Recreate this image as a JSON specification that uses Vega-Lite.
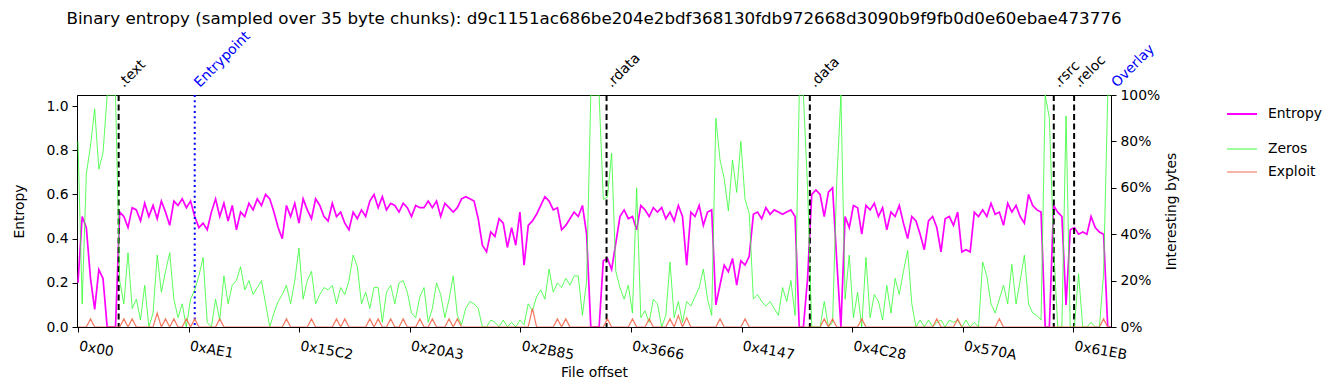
{
  "$schema": "https://vega.github.io/schema/vega-lite/v6.json",
  "width": 1034,
  "height": 232,
  "autosize": {"type": "none"},
  "padding": {"left": 77, "top": 95, "right": 224, "bottom": 63},
  "background": "white",
  "config": {
    "font": "DejaVu Sans",
    "view": {"stroke": "black", "strokeWidth": 1},
    "axis": {"labelFont": "DejaVu Sans", "labelFontSize": 13.9, "labelColor": "black", "titleFont": "DejaVu Sans", "titleFontSize": 13.9, "titleFontWeight": "normal", "titleColor": "black", "domainColor": "black", "tickColor": "black", "tickSize": 5, "grid": false},
    "legend": {"labelFont": "DejaVu Sans", "labelFontSize": 13.9, "labelColor": "black", "symbolType": "stroke", "symbolSize": 900, "labelOffset": 10, "padding": 0}
  },
  "title": {"text": "Binary entropy (sampled over 35 byte chunks): d9c1151ac686be204e2bdf368130fdb972668d3090b9f9fb0d0e60ebae473776", "font": "DejaVu Sans", "fontSize": 16.7, "fontWeight": "normal", "color": "black", "anchor": "middle", "frame": "group", "offset": 1},
  "datasets": {
    "sec": [
      {"o": 1024, "name": ".text", "kind": "s"},
      {"o": 2940, "name": "Entrypoint", "kind": "e"},
      {"o": 13312, "name": ".rdata", "kind": "s"},
      {"o": 18432, "name": ".data", "kind": "s"},
      {"o": 24576, "name": ".rsrc", "kind": "s"},
      {"o": 25088, "name": ".reloc", "kind": "s"},
      {"o": 26040, "name": "Overlay", "kind": "o"}
    ],
    "d": [
      {"o":0,"Entropy":0.2,"Zeros":0.8,"Exploit":0},
      {"o":105,"Entropy":0.5,"Zeros":0.1,"Exploit":0},
      {"o":210,"Entropy":0.45,"Zeros":0.66,"Exploit":0},
      {"o":315,"Entropy":0.22,"Zeros":0.78,"Exploit":0.035},
      {"o":420,"Entropy":0.08,"Zeros":0.94,"Exploit":0},
      {"o":525,"Entropy":0.26,"Zeros":0.68,"Exploit":0},
      {"o":630,"Entropy":0.22,"Zeros":0.75,"Exploit":0},
      {"o":735,"Entropy":0,"Zeros":1,"Exploit":0},
      {"o":840,"Entropy":0,"Zeros":1,"Exploit":0},
      {"o":945,"Entropy":0,"Zeros":1,"Exploit":0},
      {"o":1050,"Entropy":0.52,"Zeros":0.2,"Exploit":0},
      {"o":1155,"Entropy":0.5,"Zeros":0.1,"Exploit":0.035},
      {"o":1260,"Entropy":0.45,"Zeros":0.32,"Exploit":0},
      {"o":1365,"Entropy":0.54,"Zeros":0.08,"Exploit":0.035},
      {"o":1470,"Entropy":0.53,"Zeros":0.12,"Exploit":0},
      {"o":1575,"Entropy":0.48,"Zeros":0.03,"Exploit":0},
      {"o":1680,"Entropy":0.56,"Zeros":0.18,"Exploit":0},
      {"o":1785,"Entropy":0.5,"Zeros":0,"Exploit":0},
      {"o":1890,"Entropy":0.55,"Zeros":0.06,"Exploit":0},
      {"o":1995,"Entropy":0.49,"Zeros":0.31,"Exploit":0.06},
      {"o":2100,"Entropy":0.57,"Zeros":0.15,"Exploit":0},
      {"o":2205,"Entropy":0.52,"Zeros":0.24,"Exploit":0.035},
      {"o":2310,"Entropy":0.46,"Zeros":0.32,"Exploit":0},
      {"o":2415,"Entropy":0.57,"Zeros":0.12,"Exploit":0.035},
      {"o":2520,"Entropy":0.55,"Zeros":0.04,"Exploit":0},
      {"o":2625,"Entropy":0.58,"Zeros":0.1,"Exploit":0},
      {"o":2730,"Entropy":0.54,"Zeros":0,"Exploit":0.035},
      {"o":2835,"Entropy":0.57,"Zeros":0.12,"Exploit":0},
      {"o":2940,"Entropy":0.5,"Zeros":0.16,"Exploit":0.035},
      {"o":3045,"Entropy":0.45,"Zeros":0.22,"Exploit":0},
      {"o":3150,"Entropy":0.47,"Zeros":0.3,"Exploit":0},
      {"o":3255,"Entropy":0.44,"Zeros":0.02,"Exploit":0},
      {"o":3360,"Entropy":0.52,"Zeros":0,"Exploit":0},
      {"o":3465,"Entropy":0.58,"Zeros":0.12,"Exploit":0},
      {"o":3570,"Entropy":0.5,"Zeros":0.03,"Exploit":0.035},
      {"o":3675,"Entropy":0.56,"Zeros":0.22,"Exploit":0},
      {"o":3780,"Entropy":0.48,"Zeros":0.1,"Exploit":0},
      {"o":3885,"Entropy":0.55,"Zeros":0.18,"Exploit":0},
      {"o":3990,"Entropy":0.44,"Zeros":0.2,"Exploit":0},
      {"o":4095,"Entropy":0.52,"Zeros":0.26,"Exploit":0},
      {"o":4200,"Entropy":0.5,"Zeros":0.16,"Exploit":0},
      {"o":4305,"Entropy":0.56,"Zeros":0.2,"Exploit":0},
      {"o":4410,"Entropy":0.53,"Zeros":0.14,"Exploit":0},
      {"o":4515,"Entropy":0.58,"Zeros":0.17,"Exploit":0},
      {"o":4620,"Entropy":0.55,"Zeros":0.2,"Exploit":0},
      {"o":4725,"Entropy":0.6,"Zeros":0.1,"Exploit":0},
      {"o":4830,"Entropy":0.58,"Zeros":0,"Exploit":0},
      {"o":4935,"Entropy":0.52,"Zeros":0.06,"Exploit":0},
      {"o":5040,"Entropy":0.45,"Zeros":0.11,"Exploit":0},
      {"o":5145,"Entropy":0.4,"Zeros":0.14,"Exploit":0},
      {"o":5250,"Entropy":0.55,"Zeros":0.18,"Exploit":0.035},
      {"o":5355,"Entropy":0.5,"Zeros":0.1,"Exploit":0},
      {"o":5460,"Entropy":0.56,"Zeros":0.2,"Exploit":0},
      {"o":5565,"Entropy":0.47,"Zeros":0.34,"Exploit":0},
      {"o":5670,"Entropy":0.58,"Zeros":0.12,"Exploit":0},
      {"o":5775,"Entropy":0.53,"Zeros":0.2,"Exploit":0},
      {"o":5880,"Entropy":0.49,"Zeros":0.24,"Exploit":0.035},
      {"o":5985,"Entropy":0.58,"Zeros":0.1,"Exploit":0},
      {"o":6090,"Entropy":0.55,"Zeros":0.14,"Exploit":0},
      {"o":6195,"Entropy":0.5,"Zeros":0.17,"Exploit":0},
      {"o":6300,"Entropy":0.48,"Zeros":0.16,"Exploit":0},
      {"o":6405,"Entropy":0.56,"Zeros":0.18,"Exploit":0},
      {"o":6510,"Entropy":0.5,"Zeros":0.1,"Exploit":0.035},
      {"o":6615,"Entropy":0.52,"Zeros":0.17,"Exploit":0},
      {"o":6720,"Entropy":0.47,"Zeros":0.14,"Exploit":0.035},
      {"o":6825,"Entropy":0.44,"Zeros":0.2,"Exploit":0},
      {"o":6930,"Entropy":0.52,"Zeros":0.31,"Exploit":0},
      {"o":7035,"Entropy":0.49,"Zeros":0.26,"Exploit":0},
      {"o":7140,"Entropy":0.53,"Zeros":0.1,"Exploit":0},
      {"o":7245,"Entropy":0.5,"Zeros":0.15,"Exploit":0},
      {"o":7350,"Entropy":0.57,"Zeros":0.08,"Exploit":0.035},
      {"o":7455,"Entropy":0.6,"Zeros":0.17,"Exploit":0},
      {"o":7560,"Entropy":0.54,"Zeros":0.17,"Exploit":0.035},
      {"o":7665,"Entropy":0.59,"Zeros":0.02,"Exploit":0},
      {"o":7770,"Entropy":0.53,"Zeros":0.15,"Exploit":0},
      {"o":7875,"Entropy":0.56,"Zeros":0.18,"Exploit":0.035},
      {"o":7980,"Entropy":0.55,"Zeros":0.1,"Exploit":0},
      {"o":8085,"Entropy":0.52,"Zeros":0.19,"Exploit":0},
      {"o":8190,"Entropy":0.56,"Zeros":0.2,"Exploit":0.035},
      {"o":8295,"Entropy":0.54,"Zeros":0.15,"Exploit":0},
      {"o":8400,"Entropy":0.5,"Zeros":0.06,"Exploit":0},
      {"o":8505,"Entropy":0.55,"Zeros":0.04,"Exploit":0},
      {"o":8610,"Entropy":0.54,"Zeros":0.13,"Exploit":0.035},
      {"o":8715,"Entropy":0.54,"Zeros":0.17,"Exploit":0},
      {"o":8820,"Entropy":0.57,"Zeros":0.02,"Exploit":0},
      {"o":8925,"Entropy":0.54,"Zeros":0.08,"Exploit":0.035},
      {"o":9030,"Entropy":0.57,"Zeros":0.19,"Exploit":0},
      {"o":9135,"Entropy":0.5,"Zeros":0.14,"Exploit":0},
      {"o":9240,"Entropy":0.56,"Zeros":0.04,"Exploit":0},
      {"o":9345,"Entropy":0.54,"Zeros":0.12,"Exploit":0.035},
      {"o":9450,"Entropy":0.52,"Zeros":0.22,"Exploit":0},
      {"o":9555,"Entropy":0.54,"Zeros":0.05,"Exploit":0.035},
      {"o":9660,"Entropy":0.58,"Zeros":0.01,"Exploit":0},
      {"o":9765,"Entropy":0.59,"Zeros":0.08,"Exploit":0},
      {"o":9870,"Entropy":0.58,"Zeros":0.11,"Exploit":0},
      {"o":9975,"Entropy":0.57,"Zeros":0.1,"Exploit":0},
      {"o":10080,"Entropy":0.49,"Zeros":0.08,"Exploit":0},
      {"o":10185,"Entropy":0.37,"Zeros":0,"Exploit":0},
      {"o":10290,"Entropy":0.34,"Zeros":0,"Exploit":0},
      {"o":10395,"Entropy":0.43,"Zeros":0.03,"Exploit":0},
      {"o":10500,"Entropy":0.41,"Zeros":0.02,"Exploit":0},
      {"o":10605,"Entropy":0.49,"Zeros":0,"Exploit":0},
      {"o":10710,"Entropy":0.47,"Zeros":0.03,"Exploit":0},
      {"o":10815,"Entropy":0.36,"Zeros":0,"Exploit":0},
      {"o":10920,"Entropy":0.45,"Zeros":0.02,"Exploit":0},
      {"o":11025,"Entropy":0.37,"Zeros":0,"Exploit":0},
      {"o":11130,"Entropy":0.52,"Zeros":0.03,"Exploit":0},
      {"o":11235,"Entropy":0.28,"Zeros":0.01,"Exploit":0},
      {"o":11340,"Entropy":0.46,"Zeros":0.1,"Exploit":0},
      {"o":11445,"Entropy":0.48,"Zeros":0.07,"Exploit":0.08},
      {"o":11550,"Entropy":0.51,"Zeros":0.13,"Exploit":0},
      {"o":11655,"Entropy":0.55,"Zeros":0.16,"Exploit":0},
      {"o":11760,"Entropy":0.59,"Zeros":0.12,"Exploit":0},
      {"o":11865,"Entropy":0.57,"Zeros":0.25,"Exploit":0},
      {"o":11970,"Entropy":0.53,"Zeros":0.15,"Exploit":0},
      {"o":12075,"Entropy":0.54,"Zeros":0.19,"Exploit":0.035},
      {"o":12180,"Entropy":0.44,"Zeros":0.17,"Exploit":0},
      {"o":12285,"Entropy":0.46,"Zeros":0.21,"Exploit":0.035},
      {"o":12390,"Entropy":0.49,"Zeros":0.18,"Exploit":0},
      {"o":12495,"Entropy":0.52,"Zeros":0.22,"Exploit":0},
      {"o":12600,"Entropy":0.5,"Zeros":0.22,"Exploit":0},
      {"o":12705,"Entropy":0.55,"Zeros":0.05,"Exploit":0},
      {"o":12810,"Entropy":0.42,"Zeros":0.2,"Exploit":0},
      {"o":12915,"Entropy":0,"Zeros":1,"Exploit":0},
      {"o":13020,"Entropy":0,"Zeros":1,"Exploit":0},
      {"o":13125,"Entropy":0,"Zeros":1,"Exploit":0},
      {"o":13230,"Entropy":0.3,"Zeros":0.55,"Exploit":0},
      {"o":13335,"Entropy":0.31,"Zeros":0.56,"Exploit":0.035},
      {"o":13440,"Entropy":0.26,"Zeros":0.75,"Exploit":0},
      {"o":13545,"Entropy":0.38,"Zeros":0.24,"Exploit":0},
      {"o":13650,"Entropy":0.5,"Zeros":0.17,"Exploit":0},
      {"o":13755,"Entropy":0.53,"Zeros":0.12,"Exploit":0},
      {"o":13860,"Entropy":0.49,"Zeros":0.18,"Exploit":0},
      {"o":13965,"Entropy":0.5,"Zeros":0.06,"Exploit":0.035},
      {"o":14070,"Entropy":0.44,"Zeros":0.6,"Exploit":0},
      {"o":14175,"Entropy":0.55,"Zeros":0.04,"Exploit":0},
      {"o":14280,"Entropy":0.53,"Zeros":0.07,"Exploit":0},
      {"o":14385,"Entropy":0.5,"Zeros":0.02,"Exploit":0.035},
      {"o":14490,"Entropy":0.54,"Zeros":0.12,"Exploit":0},
      {"o":14595,"Entropy":0.52,"Zeros":0.1,"Exploit":0},
      {"o":14700,"Entropy":0.54,"Zeros":0,"Exploit":0},
      {"o":14805,"Entropy":0.49,"Zeros":0.05,"Exploit":0},
      {"o":14910,"Entropy":0.52,"Zeros":0.28,"Exploit":0.035},
      {"o":15015,"Entropy":0.48,"Zeros":0.04,"Exploit":0},
      {"o":15120,"Entropy":0.55,"Zeros":0.11,"Exploit":0.05},
      {"o":15225,"Entropy":0.5,"Zeros":0.02,"Exploit":0},
      {"o":15330,"Entropy":0.28,"Zeros":0.11,"Exploit":0.04},
      {"o":15435,"Entropy":0.52,"Zeros":0.09,"Exploit":0},
      {"o":15540,"Entropy":0.5,"Zeros":0.13,"Exploit":0},
      {"o":15645,"Entropy":0.55,"Zeros":0.17,"Exploit":0},
      {"o":15750,"Entropy":0.46,"Zeros":0.25,"Exploit":0},
      {"o":15855,"Entropy":0.52,"Zeros":0.12,"Exploit":0},
      {"o":15960,"Entropy":0.53,"Zeros":0.05,"Exploit":0},
      {"o":16065,"Entropy":0.1,"Zeros":0.9,"Exploit":0},
      {"o":16170,"Entropy":0.19,"Zeros":0.72,"Exploit":0.035},
      {"o":16275,"Entropy":0.28,"Zeros":0.64,"Exploit":0},
      {"o":16380,"Entropy":0.25,"Zeros":0.5,"Exploit":0},
      {"o":16485,"Entropy":0.31,"Zeros":0.72,"Exploit":0},
      {"o":16590,"Entropy":0.19,"Zeros":0.58,"Exploit":0},
      {"o":16695,"Entropy":0.3,"Zeros":0.8,"Exploit":0},
      {"o":16800,"Entropy":0.28,"Zeros":0.55,"Exploit":0.035},
      {"o":16905,"Entropy":0.32,"Zeros":0.49,"Exploit":0},
      {"o":17010,"Entropy":0.51,"Zeros":0.12,"Exploit":0},
      {"o":17115,"Entropy":0.52,"Zeros":0.14,"Exploit":0},
      {"o":17220,"Entropy":0.49,"Zeros":0.11,"Exploit":0},
      {"o":17325,"Entropy":0.54,"Zeros":0.09,"Exploit":0},
      {"o":17430,"Entropy":0.51,"Zeros":0.11,"Exploit":0},
      {"o":17535,"Entropy":0.53,"Zeros":0.08,"Exploit":0},
      {"o":17640,"Entropy":0.52,"Zeros":0.05,"Exploit":0},
      {"o":17745,"Entropy":0.51,"Zeros":0.17,"Exploit":0},
      {"o":17850,"Entropy":0.52,"Zeros":0.11,"Exploit":0},
      {"o":17955,"Entropy":0.53,"Zeros":0.2,"Exploit":0},
      {"o":18060,"Entropy":0.5,"Zeros":0.05,"Exploit":0},
      {"o":18165,"Entropy":0,"Zeros":1,"Exploit":0},
      {"o":18270,"Entropy":0,"Zeros":1,"Exploit":0},
      {"o":18375,"Entropy":0.22,"Zeros":0.6,"Exploit":0},
      {"o":18480,"Entropy":0.6,"Zeros":0,"Exploit":0},
      {"o":18585,"Entropy":0.62,"Zeros":0,"Exploit":0},
      {"o":18690,"Entropy":0.6,"Zeros":0,"Exploit":0},
      {"o":18795,"Entropy":0.5,"Zeros":0.11,"Exploit":0.035},
      {"o":18900,"Entropy":0.61,"Zeros":0,"Exploit":0},
      {"o":19005,"Entropy":0.63,"Zeros":0.02,"Exploit":0.035},
      {"o":19110,"Entropy":0.3,"Zeros":0.63,"Exploit":0},
      {"o":19215,"Entropy":0,"Zeros":1,"Exploit":0},
      {"o":19320,"Entropy":0.5,"Zeros":0.12,"Exploit":0},
      {"o":19425,"Entropy":0.45,"Zeros":0.31,"Exploit":0},
      {"o":19530,"Entropy":0.55,"Zeros":0.04,"Exploit":0},
      {"o":19635,"Entropy":0.54,"Zeros":0.15,"Exploit":0},
      {"o":19740,"Entropy":0.42,"Zeros":0,"Exploit":0.035},
      {"o":19845,"Entropy":0.55,"Zeros":0.3,"Exploit":0},
      {"o":19950,"Entropy":0.53,"Zeros":0.04,"Exploit":0},
      {"o":20055,"Entropy":0.56,"Zeros":0.14,"Exploit":0},
      {"o":20160,"Entropy":0.5,"Zeros":0.11,"Exploit":0},
      {"o":20265,"Entropy":0.54,"Zeros":0.03,"Exploit":0},
      {"o":20370,"Entropy":0.44,"Zeros":0.18,"Exploit":0},
      {"o":20475,"Entropy":0.52,"Zeros":0.06,"Exploit":0},
      {"o":20580,"Entropy":0.5,"Zeros":0.21,"Exploit":0},
      {"o":20685,"Entropy":0.55,"Zeros":0.14,"Exploit":0},
      {"o":20790,"Entropy":0.47,"Zeros":0.24,"Exploit":0},
      {"o":20895,"Entropy":0.4,"Zeros":0.33,"Exploit":0},
      {"o":21000,"Entropy":0.5,"Zeros":0.1,"Exploit":0},
      {"o":21105,"Entropy":0.48,"Zeros":0,"Exploit":0},
      {"o":21210,"Entropy":0.42,"Zeros":0.03,"Exploit":0},
      {"o":21315,"Entropy":0.35,"Zeros":0,"Exploit":0},
      {"o":21420,"Entropy":0.48,"Zeros":0.03,"Exploit":0},
      {"o":21525,"Entropy":0.5,"Zeros":0,"Exploit":0},
      {"o":21630,"Entropy":0.45,"Zeros":0.02,"Exploit":0.035},
      {"o":21735,"Entropy":0.34,"Zeros":0.03,"Exploit":0},
      {"o":21840,"Entropy":0.49,"Zeros":0,"Exploit":0},
      {"o":21945,"Entropy":0.5,"Zeros":0.03,"Exploit":0},
      {"o":22050,"Entropy":0.46,"Zeros":0.02,"Exploit":0},
      {"o":22155,"Entropy":0.52,"Zeros":0.03,"Exploit":0.035},
      {"o":22260,"Entropy":0.34,"Zeros":0,"Exploit":0},
      {"o":22365,"Entropy":0.35,"Zeros":0.03,"Exploit":0},
      {"o":22470,"Entropy":0.34,"Zeros":0,"Exploit":0},
      {"o":22575,"Entropy":0.52,"Zeros":0.02,"Exploit":0},
      {"o":22680,"Entropy":0.5,"Zeros":0,"Exploit":0},
      {"o":22785,"Entropy":0.53,"Zeros":0.28,"Exploit":0},
      {"o":22890,"Entropy":0.5,"Zeros":0.22,"Exploit":0},
      {"o":22995,"Entropy":0.56,"Zeros":0.1,"Exploit":0},
      {"o":23100,"Entropy":0.51,"Zeros":0.06,"Exploit":0},
      {"o":23205,"Entropy":0.52,"Zeros":0.12,"Exploit":0.035},
      {"o":23310,"Entropy":0.46,"Zeros":0.18,"Exploit":0},
      {"o":23415,"Entropy":0.56,"Zeros":0.1,"Exploit":0},
      {"o":23520,"Entropy":0.52,"Zeros":0.27,"Exploit":0},
      {"o":23625,"Entropy":0.55,"Zeros":0.1,"Exploit":0},
      {"o":23730,"Entropy":0.5,"Zeros":0.2,"Exploit":0},
      {"o":23835,"Entropy":0.47,"Zeros":0.31,"Exploit":0},
      {"o":23940,"Entropy":0.6,"Zeros":0.1,"Exploit":0},
      {"o":24045,"Entropy":0.55,"Zeros":0.06,"Exploit":0},
      {"o":24150,"Entropy":0.53,"Zeros":0.05,"Exploit":0},
      {"o":24255,"Entropy":0.52,"Zeros":0.03,"Exploit":0},
      {"o":24360,"Entropy":0,"Zeros":1,"Exploit":0},
      {"o":24465,"Entropy":0,"Zeros":0.9,"Exploit":0},
      {"o":24570,"Entropy":0.55,"Zeros":0.35,"Exploit":0},
      {"o":24675,"Entropy":0.52,"Zeros":0,"Exploit":0},
      {"o":24780,"Entropy":0.5,"Zeros":0,"Exploit":0},
      {"o":24885,"Entropy":0.1,"Zeros":0.91,"Exploit":0},
      {"o":24990,"Entropy":0.44,"Zeros":0,"Exploit":0},
      {"o":25095,"Entropy":0.45,"Zeros":0,"Exploit":0},
      {"o":25200,"Entropy":0.42,"Zeros":0.23,"Exploit":0},
      {"o":25305,"Entropy":0.43,"Zeros":0,"Exploit":0},
      {"o":25410,"Entropy":0.42,"Zeros":0,"Exploit":0},
      {"o":25515,"Entropy":0.5,"Zeros":0.02,"Exploit":0},
      {"o":25620,"Entropy":0.45,"Zeros":0,"Exploit":0},
      {"o":25725,"Entropy":0.43,"Zeros":0,"Exploit":0},
      {"o":25830,"Entropy":0.42,"Zeros":0.23,"Exploit":0.035},
      {"o":25935,"Entropy":0,"Zeros":1,"Exploit":0},
      {"o":26010,"Entropy":0,"Zeros":1,"Exploit":0}
    ]
  },
  "layer": [
    {
      "layer": [
        {
          "data": {"name": "d"},
          "mark": {"type": "line", "strokeWidth": 1.7, "clip": true},
          "encoding": {
            "x": {"field": "o", "type": "quantitative", "title": "File offset", "scale": {"domain": [-25, 26017], "nice": false, "zero": false},
              "axis": {"values": [0, 2785, 5570, 8355, 11141, 13926, 16711, 19496, 22282, 25067], "labelExpr": "['0x00','0xAE1','0x15C2','0x20A3','0x2B85','0x3666','0x4147','0x4C28','0x570A','0x61EB'][round(datum.value/2785.2)]", "labelAngle": 10, "labelAlign": "left", "labelBaseline": "top", "labelPadding": 7, "labelOffset": 2, "titlePadding": 4}},
            "y": {"field": "Entropy", "type": "quantitative", "title": "Entropy", "scale": {"domain": [0, 1.05], "nice": false},
              "axis": {"values": [0, 0.2, 0.4, 0.6, 0.8, 1.0], "format": ".1f", "labelPadding": 4, "titlePadding": 19}},
            "color": {"datum": "Entropy", "scale": {"domain": ["Entropy"], "range": ["#ff00ff"]},
              "legend": {"title": null, "orient": "none", "legendX": 1149, "legendY": 3, "symbolStrokeWidth": 2}}
          }
        },
        {
          "data": {"name": "sec"},
          "transform": [{"filter": "datum.kind == 's'"}],
          "mark": {"type": "rule", "color": "black", "strokeWidth": 2, "strokeDash": [6, 3.5]},
          "encoding": {"x": {"field": "o", "type": "quantitative", "title": "File offset"}}
        },
        {
          "data": {"name": "sec"},
          "transform": [{"filter": "datum.kind == 'e'"}],
          "mark": {"type": "rule", "color": "#0000ff", "strokeWidth": 2, "strokeDash": [2, 3.3]},
          "encoding": {"x": {"field": "o", "type": "quantitative", "title": "File offset"}}
        },
        {
          "data": {"name": "sec"},
          "mark": {"type": "text", "align": "left", "baseline": "alphabetic", "angle": -45, "dx": 8.5, "dy": -1.4, "font": "DejaVu Sans", "fontSize": 13.9},
          "encoding": {
            "x": {"field": "o", "type": "quantitative", "title": "File offset"},
            "y": {"datum": 1.05, "type": "quantitative"},
            "text": {"field": "name"},
            "color": {"condition": {"test": "datum.kind != 's'", "value": "#0000ff"}, "value": "black"}
          }
        }
      ]
    },
    {
      "layer": [
        {
          "data": {"name": "d"},
          "mark": {"type": "line", "strokeWidth": 1, "opacity": 0.8, "clip": true},
          "encoding": {
            "x": {"field": "o", "type": "quantitative", "title": "File offset"},
            "y": {"field": "Zeros", "type": "quantitative", "title": "Interesting bytes", "scale": {"domain": [0, 1], "nice": false},
              "axis": {"orient": "right", "values": [0, 0.2, 0.4, 0.6, 0.8, 1.0], "format": ".0%", "labelPadding": 4, "titlePadding": 19, "titleAngle": 270}},
            "color": {"datum": "Zeros", "scale": {"domain": ["Zeros", "Exploit"], "range": ["#33ff33", "#f26a4f"]},
              "legend": {"title": null, "orient": "none", "legendX": 1149, "legendY": 38, "symbolStrokeWidth": 1.2, "rowPadding": -12}}
          }
        },
        {
          "data": {"name": "d"},
          "mark": {"type": "line", "strokeWidth": 1.2, "opacity": 0.9, "clip": true},
          "encoding": {
            "x": {"field": "o", "type": "quantitative", "title": "File offset"},
            "y": {"field": "Exploit", "type": "quantitative", "title": "Interesting bytes", "axis": {"orient": "right", "titleAngle": 270, "titlePadding": 19}},
            "color": {"datum": "Exploit"}
          }
        }
      ]
    }
  ],
  "resolve": {"scale": {"y": "independent", "color": "independent"}}
}
